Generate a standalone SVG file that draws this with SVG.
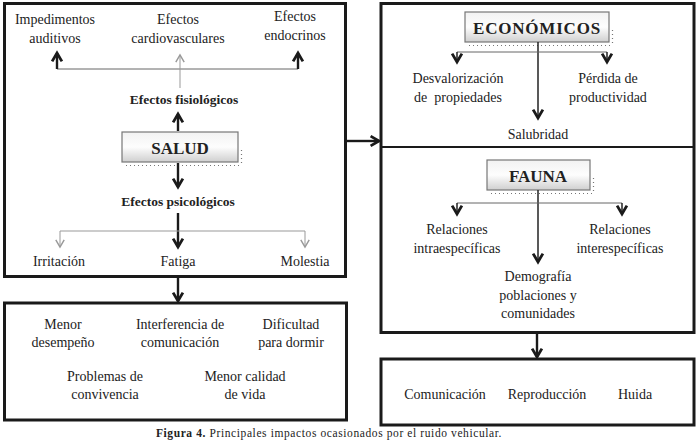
<svg xmlns="http://www.w3.org/2000/svg" width="699" height="444" viewBox="0 0 699 444">
<defs>
<style>
text{font-family:"Liberation Serif","Times New Roman",serif;fill:#222}
.t{font-size:14px;text-anchor:middle}
.b{font-size:13.5px;font-weight:bold;text-anchor:middle}
.h{font-size:17px;font-weight:bold;text-anchor:middle}
.box{fill:#fff;stroke:#1a1a1a;stroke-width:3}
.tag{fill:url(#g);stroke:#777;stroke-width:1.2}
.dot{fill:none;stroke:#777;stroke-width:1.2;stroke-dasharray:1 3}
.bk{fill:none;stroke:#1a1a1a;stroke-width:2.4}
.th{fill:none;stroke:#222;stroke-width:1.5}
.gr{fill:none;stroke:#999;stroke-width:1}
.gl{fill:none;stroke:#666;stroke-width:1}
</style>
<linearGradient id="g" x1="0" y1="0" x2="0" y2="1">
<stop offset="0" stop-color="#f2f2f2"/>
<stop offset="0.5" stop-color="#fdfdfd"/>
<stop offset="1" stop-color="#cfcfcf"/>
</linearGradient>
<marker id="ab" markerUnits="userSpaceOnUse" markerWidth="14" markerHeight="14" viewBox="0 0 10 10" refX="8" refY="5" orient="auto">
<path d="M2,1.5 L8,5 L2,8.5" fill="none" stroke="#1a1a1a" stroke-width="2"/>
</marker>
<marker id="ag" markerUnits="userSpaceOnUse" markerWidth="12" markerHeight="12" viewBox="0 0 10 10" refX="8" refY="5" orient="auto">
<path d="M2,1.5 L8,5 L2,8.5" fill="none" stroke="#999" stroke-width="1.2"/>
</marker>
</defs>

<rect width="699" height="444" fill="#fff"/>

<g id="box-salud-outer"><rect class="box" x="4.5" y="3.5" width="341" height="273"/></g>
<g id="box-psico"><rect class="box" x="4.5" y="303" width="342" height="117"/>
<text class="t" x="63" y="329">Menor</text><text class="t" x="63" y="347">desempeño</text>
<text class="t" x="180" y="329">Interferencia de</text><text class="t" x="180" y="347">comunicación</text>
<text class="t" x="291" y="329">Dificultad</text><text class="t" x="291" y="347">para dormir</text>
<text class="t" x="105" y="381">Problemas de</text><text class="t" x="105" y="399">convivencia</text>
<text class="t" x="245" y="381">Menor calidad</text><text class="t" x="245" y="399">de vida</text>
</g>
<g id="box-right"><rect class="box" x="381" y="3.5" width="313" height="329"/>
<line x1="381" y1="147" x2="694" y2="147" stroke="#1a1a1a" stroke-width="2"/></g>
<g id="box-fauna-effects"><rect class="box" x="381" y="359" width="313" height="66"/>
<text class="t" x="445" y="399">Comunicación</text>
<text class="t" x="547" y="399">Reproducción</text>
<text class="t" x="635" y="399">Huida</text>
</g>

<g id="salud">
<path class="dot" d="M126,165.5 H241.5 M241.5,150 V163"/>
<rect class="tag" x="122" y="132" width="116" height="30"/>
<text class="h" x="180" y="154">SALUD</text>
</g>
<g id="economicos">
<path class="dot" d="M469,45.5 H612.5 M612.5,30 V43"/>
<rect class="tag" x="465" y="12" width="144" height="30"/>
<text class="h" x="537" y="34" letter-spacing="0.8">ECONÓMICOS</text>
</g>
<g id="fauna">
<path class="dot" d="M491,193.5 H593.5 M593.5,178 V191"/>
<rect class="tag" x="487" y="160" width="103" height="30"/>
<text class="h" x="538" y="182">FAUNA</text>
</g>

<g id="labels-salud">
<text class="t" x="55" y="24">Impedimentos</text><text class="t" x="55" y="43">auditivos</text>
<text class="t" x="178" y="24">Efectos</text><text class="t" x="178" y="43">cardiovasculares</text>
<text class="t" x="295" y="21">Efectos</text><text class="t" x="295" y="40">endocrinos</text>
<text class="b" x="184" y="104">Efectos fisiológicos</text>
<text class="b" x="178" y="206">Efectos psicológicos</text>
<text class="t" x="59" y="266">Irritación</text>
<text class="t" x="178" y="266">Fatiga</text>
<text class="t" x="305" y="266">Molestia</text>
</g>
<g id="labels-right">
<text class="t" x="458" y="83">Desvalorización</text><text class="t" x="458" y="102" xml:space="preserve">de  propiedades</text>
<text class="t" x="608" y="83">Pérdida de</text><text class="t" x="608" y="102">productividad</text>
<text class="t" x="538" y="139">Salubridad</text>
<text class="t" x="457" y="234">Relaciones</text><text class="t" x="457" y="253">intraespecíficas</text>
<text class="t" x="620" y="234">Relaciones</text><text class="t" x="620" y="253">interespecíficas</text>
<text class="t" x="538" y="281">Demografía</text><text class="t" x="538" y="300">poblaciones y</text><text class="t" x="538" y="318">comunidades</text>
</g>

<g id="connectors">
<path class="gl" d="M57,69 H298"/>
<path class="bk" d="M57,69 V53" marker-end="url(#ab)"/>
<path class="bk" d="M298,69 V53" marker-end="url(#ab)"/>
<path class="gr" d="M180,88 V55" marker-end="url(#ag)"/>
<path class="bk" d="M178,131 V114" marker-end="url(#ab)"/>
<path class="bk" d="M178,163 V187" marker-end="url(#ab)"/>
<path class="bk" d="M178,213 V247" marker-end="url(#ab)"/>
<path class="gr" d="M60,231 H305"/>
<path class="gr" d="M60,231 V247" marker-end="url(#ag)"/>
<path class="gr" d="M305,231 V247" marker-end="url(#ag)"/>
<path class="bk" d="M178,278 V301" marker-end="url(#ab)"/>
<path class="bk" d="M347,141 H379" marker-end="url(#ab)"/>
<path class="th" d="M538,42 V118" marker-end="url(#ab)"/>
<path class="gl" d="M457,52 H607"/>
<path class="th" d="M457,52 V62" marker-end="url(#ab)"/>
<path class="th" d="M607,52 V62" marker-end="url(#ab)"/>
<path class="th" d="M538,190 V262" marker-end="url(#ab)"/>
<path class="gl" d="M457,203 H622"/>
<path class="th" d="M457,203 V214" marker-end="url(#ab)"/>
<path class="th" d="M622,203 V214" marker-end="url(#ab)"/>
<path class="bk" d="M537,333 V357" marker-end="url(#ab)"/>
</g>

<text x="329" y="437" font-size="11.5" text-anchor="middle" letter-spacing="0.6"><tspan font-weight="bold">Figura 4.</tspan> Principales impactos ocasionados por el ruido vehicular.</text>
</svg>
